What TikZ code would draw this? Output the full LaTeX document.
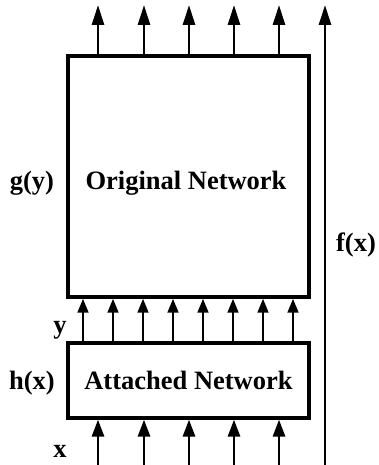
\documentclass[tikz,border=0pt]{standalone}
\usepackage{fontspec}
\setmainfont{Liberation Serif}
\usetikzlibrary{arrows.meta}
\begin{document}
\begin{tikzpicture}[x=1pt,y=-1pt,
 box/.style={draw, line width=3.2pt, inner sep=0pt, minimum width=241pt},
 lab/.style={font=\fontsize{26.5}{30}\selectfont\bfseries, inner sep=0pt},
 arr/.style={line width=2.8pt, -{Triangle[length=20pt,width=12pt]}},
 sarr/.style={line width=2.8pt, -{Triangle[length=14pt,width=10.5pt]}},
 barr/.style={line width=2.8pt, -{Triangle[length=17pt,width=12pt]}}]
\useasboundingbox (0,0) rectangle (378,465);
\node[box, minimum height=241pt] (orig) at (188.5,176.5) {};
\node[lab] (origtxt) at (186,183) {Original Network};
\node[box, minimum height=75pt, lab] (att) at (188.5,380.5) {Attached Network};
\node[lab] (gy) at (32,183) {g(y)};
\node[lab] (hx) at (32,383) {h(x)};
\node[lab] (ylab) at (60,330) {y};
\node[lab] (xlab) at (60,451) {x};
\node[lab] (fx) at (356,245) {f(x)};
\foreach \i/\px in {1/98,2/144,3/189,4/234,5/279}{
  \coordinate (top\i) at (\px,5);
  \coordinate (bot\i) at (\px,465);
  \draw[arr] (top\i |- orig.north) -- (top\i);
  \draw[barr] (bot\i) -- (bot\i |- att.south);
}
\foreach \i/\px in {1/83,2/113,3/143,4/173,5/203,6/233,7/263,8/293}{
  \coordinate (mid\i) at (\px,320);
  \draw[sarr] (mid\i |- att.north) -- (mid\i |- orig.south);
}
\coordinate (fbot) at (325,465);
\coordinate (ftop) at (325,5);
\draw[arr] (fbot) -- (ftop);
\end{tikzpicture}
\end{document}
